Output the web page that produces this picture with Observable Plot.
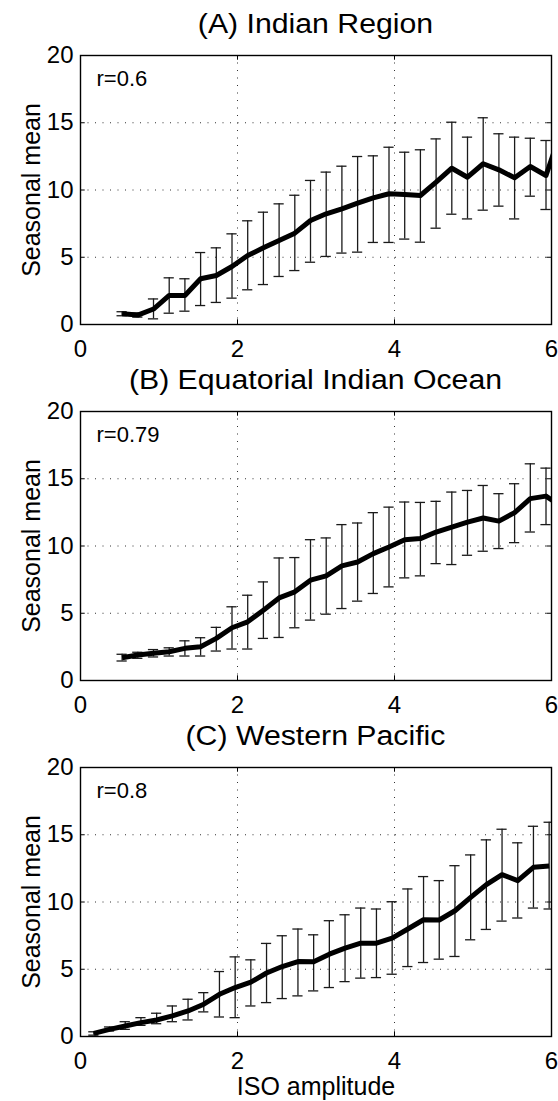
<!DOCTYPE html>
<html>
<head>
<meta charset="utf-8">
<script src="https://cdn.jsdelivr.net/npm/d3@7"></script>
<script src="https://cdn.jsdelivr.net/npm/@observablehq/plot@0.6"></script>
<style>
  html, body { margin: 0; padding: 0; background: #fff; }
  #root { position: relative; width: 558px; height: 1101px; overflow: hidden; font-family: "Liberation Sans", Arial, Helvetica, sans-serif; }
  .ttl { position: absolute; left: 80px; width: 471px; text-align: center; font-size: 27px; line-height: 27px; color: #000; transform: scaleX(1.12); transform-origin: 50% 50%; white-space: nowrap; }
  .pnl { position: absolute; left: 0; }
</style>
</head>
<body>
<div id="root"></div>
<script>
// ---- data ----
const titles = ["(A) Indian Region", "(B) Equatorial Indian Ocean", "(C) Western Pacific"];
const rLabels = ["r=0.6", "r=0.79", "r=0.8"];
const xTicks = [0, 2, 4, 6];
const yTicks = [0, 5, 10, 15, 20];

// ISO amplitude bins, panels A and B
const xAB = [0.53, 0.73, 0.93, 1.13, 1.33, 1.53, 1.73, 1.93, 2.13, 2.33, 2.53, 2.73, 2.93, 3.13, 3.33,
             3.53, 3.73, 3.93, 4.13, 4.33, 4.53, 4.73, 4.93, 5.13, 5.33, 5.53, 5.73, 5.93, 6.13];
const meanA = [0.8, 0.7, 1.15, 2.16, 2.16, 3.40, 3.64, 4.31, 5.13, 5.70, 6.25, 6.79, 7.73, 8.23, 8.60,
               9.02, 9.42, 9.72, 9.67, 9.59, 10.58, 11.62, 10.95, 11.95, 11.50, 10.91, 11.75, 11.08, 14.5];
const hiA = [0.95, 0.85, 1.9, 3.47, 3.40, 5.35, 5.70, 6.74, 7.71, 8.35, 8.97, 9.61, 10.71, 11.33, 11.77,
             12.49, 12.54, 13.18, 12.81, 12.99, 13.80, 15.04, 13.93, 15.37, 14.18, 13.93, 13.85, 13.68, 17.0];
const loA = [0.65, 0.55, 0.42, 0.84, 0.99, 1.41, 1.64, 1.96, 2.58, 2.97, 3.57, 4.01, 4.63, 5.06, 5.31,
             5.38, 6.10, 6.10, 6.35, 6.12, 7.16, 8.20, 7.85, 8.50, 8.80, 7.85, 9.54, 8.55, 12.0];

const meanB = [1.69, 1.89, 2.02, 2.14, 2.39, 2.51, 3.13, 3.92, 4.36, 5.23, 6.14, 6.59, 7.46, 7.78, 8.52,
               8.81, 9.43, 9.93, 10.47, 10.55, 11.04, 11.41, 11.78, 12.08, 11.85, 12.48, 13.52, 13.71, 12.9];
const hiB = [1.95, 2.1, 2.3, 2.43, 2.95, 3.18, 3.95, 5.48, 6.34, 7.33, 9.11, 9.14, 10.47, 10.6, 11.59,
             11.71, 12.48, 12.89, 13.27, 13.24, 13.32, 14.01, 14.13, 14.50, 13.89, 14.63, 16.11, 15.79, 15.5];
const loB = [1.45, 1.65, 1.75, 1.82, 1.82, 1.82, 2.19, 2.34, 2.34, 3.13, 3.20, 3.92, 4.49, 4.93, 5.35,
             5.90, 6.47, 6.96, 7.63, 7.78, 8.69, 8.62, 9.31, 9.61, 9.81, 10.25, 11.04, 11.59, 10.5];

// ISO amplitude bins, panel C
const xC = [0.17, 0.37, 0.57, 0.77, 0.97, 1.17, 1.37, 1.57, 1.77, 1.97, 2.17, 2.37, 2.57, 2.77, 2.97,
            3.17, 3.37, 3.57, 3.77, 3.97, 4.17, 4.37, 4.57, 4.77, 4.97, 5.17, 5.37, 5.57, 5.77, 5.97];
const meanC = [0.23, 0.53, 0.78, 1.03, 1.23, 1.53, 1.90, 2.40, 3.14, 3.64, 4.04, 4.72, 5.20, 5.57, 5.55,
               6.12, 6.57, 6.94, 6.94, 7.32, 7.99, 8.68, 8.66, 9.35, 10.34, 11.29, 12.03, 11.59, 12.58, 12.68];
const hiC = [0.35, 0.71, 1.10, 1.40, 1.73, 2.27, 2.77, 3.26, 4.83, 5.92, 5.70, 6.92, 7.49, 7.99, 7.56,
             8.61, 9.05, 9.55, 9.48, 10.02, 10.97, 11.89, 11.59, 12.70, 13.50, 14.62, 15.41, 14.40, 15.63, 15.93];
const loC = [0.10, 0.41, 0.53, 0.83, 0.95, 1.10, 1.23, 1.83, 1.45, 1.40, 2.27, 2.52, 2.82, 3.02, 3.39,
             3.64, 4.08, 4.34, 4.38, 4.63, 5.20, 5.50, 5.75, 5.95, 7.19, 7.96, 8.58, 8.81, 9.55, 9.48];

const xLabel = "ISO amplitude";
const yLabel = "Seasonal mean";

// ---- layout ----
const FONT = '"Liberation Sans", Arial, Helvetica, sans-serif';
const plotTops = [55, 411, 767];
const plotH = 269;
const padTop = 12;
const rows = (xs, m, lo, hi) => xs.map((x, i) => ({x, mean: m[i], lo: lo[i], hi: hi[i]}));
const series = [rows(xAB, meanA, loA, hiA), rows(xAB, meanB, loB, hiB), rows(xC, meanC, loC, hiC)];
const capHalf = 0.065;
const fmt = d3.format("d");

const root = document.getElementById("root");

series.forEach((data, k) => {
  const last = k === 2;
  const marginBottom = last ? 66 : 42;
  const t = document.createElement("div");
  t.className = "ttl";
  t.style.top = (plotTops[k] - 21 - 23) + "px";
  t.textContent = titles[k];
  root.appendChild(t);

  const marks = [
    Plot.gridX([2, 4], {stroke: "#333", strokeOpacity: 1, strokeWidth: 1, strokeDasharray: "1,6.5"}),
    Plot.gridY([5, 10, 15], {stroke: "#333", strokeOpacity: 1, strokeWidth: 1, strokeDasharray: "1,6.5"}),
    // inward ticks
    Plot.ruleX(xTicks, {y1: 0, y2: 0.35, stroke: "#000", strokeWidth: 1}),
    Plot.ruleX(xTicks, {y1: 19.65, y2: 20, stroke: "#000", strokeWidth: 1}),
    Plot.ruleY(yTicks, {x1: 0, x2: 0.06, stroke: "#000", strokeWidth: 1}),
    Plot.ruleY(yTicks, {x1: 5.94, x2: 6, stroke: "#000", strokeWidth: 1}),
    // error bars
    Plot.ruleX(data, {x: "x", y1: "lo", y2: "hi", stroke: "#1a1a1a", strokeWidth: 1.3, clip: true}),
    Plot.ruleY(data, {y: "hi", x1: d => d.x - capHalf, x2: d => d.x + capHalf, stroke: "#1a1a1a", strokeWidth: 1.3, clip: true}),
    Plot.ruleY(data, {y: "lo", x1: d => d.x - capHalf, x2: d => d.x + capHalf, stroke: "#1a1a1a", strokeWidth: 1.3, clip: true}),
    // mean curve
    Plot.line(data, {x: "x", y: "mean", stroke: "#000", strokeWidth: 5, strokeLinejoin: "round", strokeLinecap: "butt", clip: true}),
    Plot.frame({stroke: "#000", strokeWidth: 1.4}),
    Plot.axisX({ticks: xTicks, tickFormat: fmt, tickSize: 0, tickPadding: 15, label: null, fontSize: 24}),
    Plot.axisY({ticks: yTicks, tickFormat: fmt, tickSize: 0, tickPadding: 7, label: null, fontSize: 24}),
    Plot.text([rLabels[k]], {text: d => d, frameAnchor: "top-left", dx: 16, dy: 14.5, lineAnchor: "top", textAnchor: "start", fontSize: 22, fill: "#000"}),
    Plot.text([yLabel], {text: d => d, frameAnchor: "left", rotate: -90, dx: -41, textAnchor: "middle", lineAnchor: "bottom", fontSize: 25, fill: "#000"})
  ];
  if (last) {
    marks.push(Plot.text([xLabel], {text: d => d, frameAnchor: "bottom", dy: 58, lineAnchor: "bottom", textAnchor: "middle", fontSize: 25, fill: "#000"}));
  }

  const svg = Plot.plot({
    width: 558,
    height: padTop + plotH + marginBottom,
    marginTop: padTop,
    marginBottom,
    marginLeft: 80,
    marginRight: 7,
    x: {domain: [0, 6]},
    y: {domain: [0, 20]},
    style: {fontFamily: FONT, fontSize: "24px", background: "transparent", color: "#000", overflow: "visible"},
    marks
  });
  svg.classList.add("pnl");
  svg.style.top = (plotTops[k] - padTop) + "px";
  root.appendChild(svg);
});
</script>
</body>
</html>
